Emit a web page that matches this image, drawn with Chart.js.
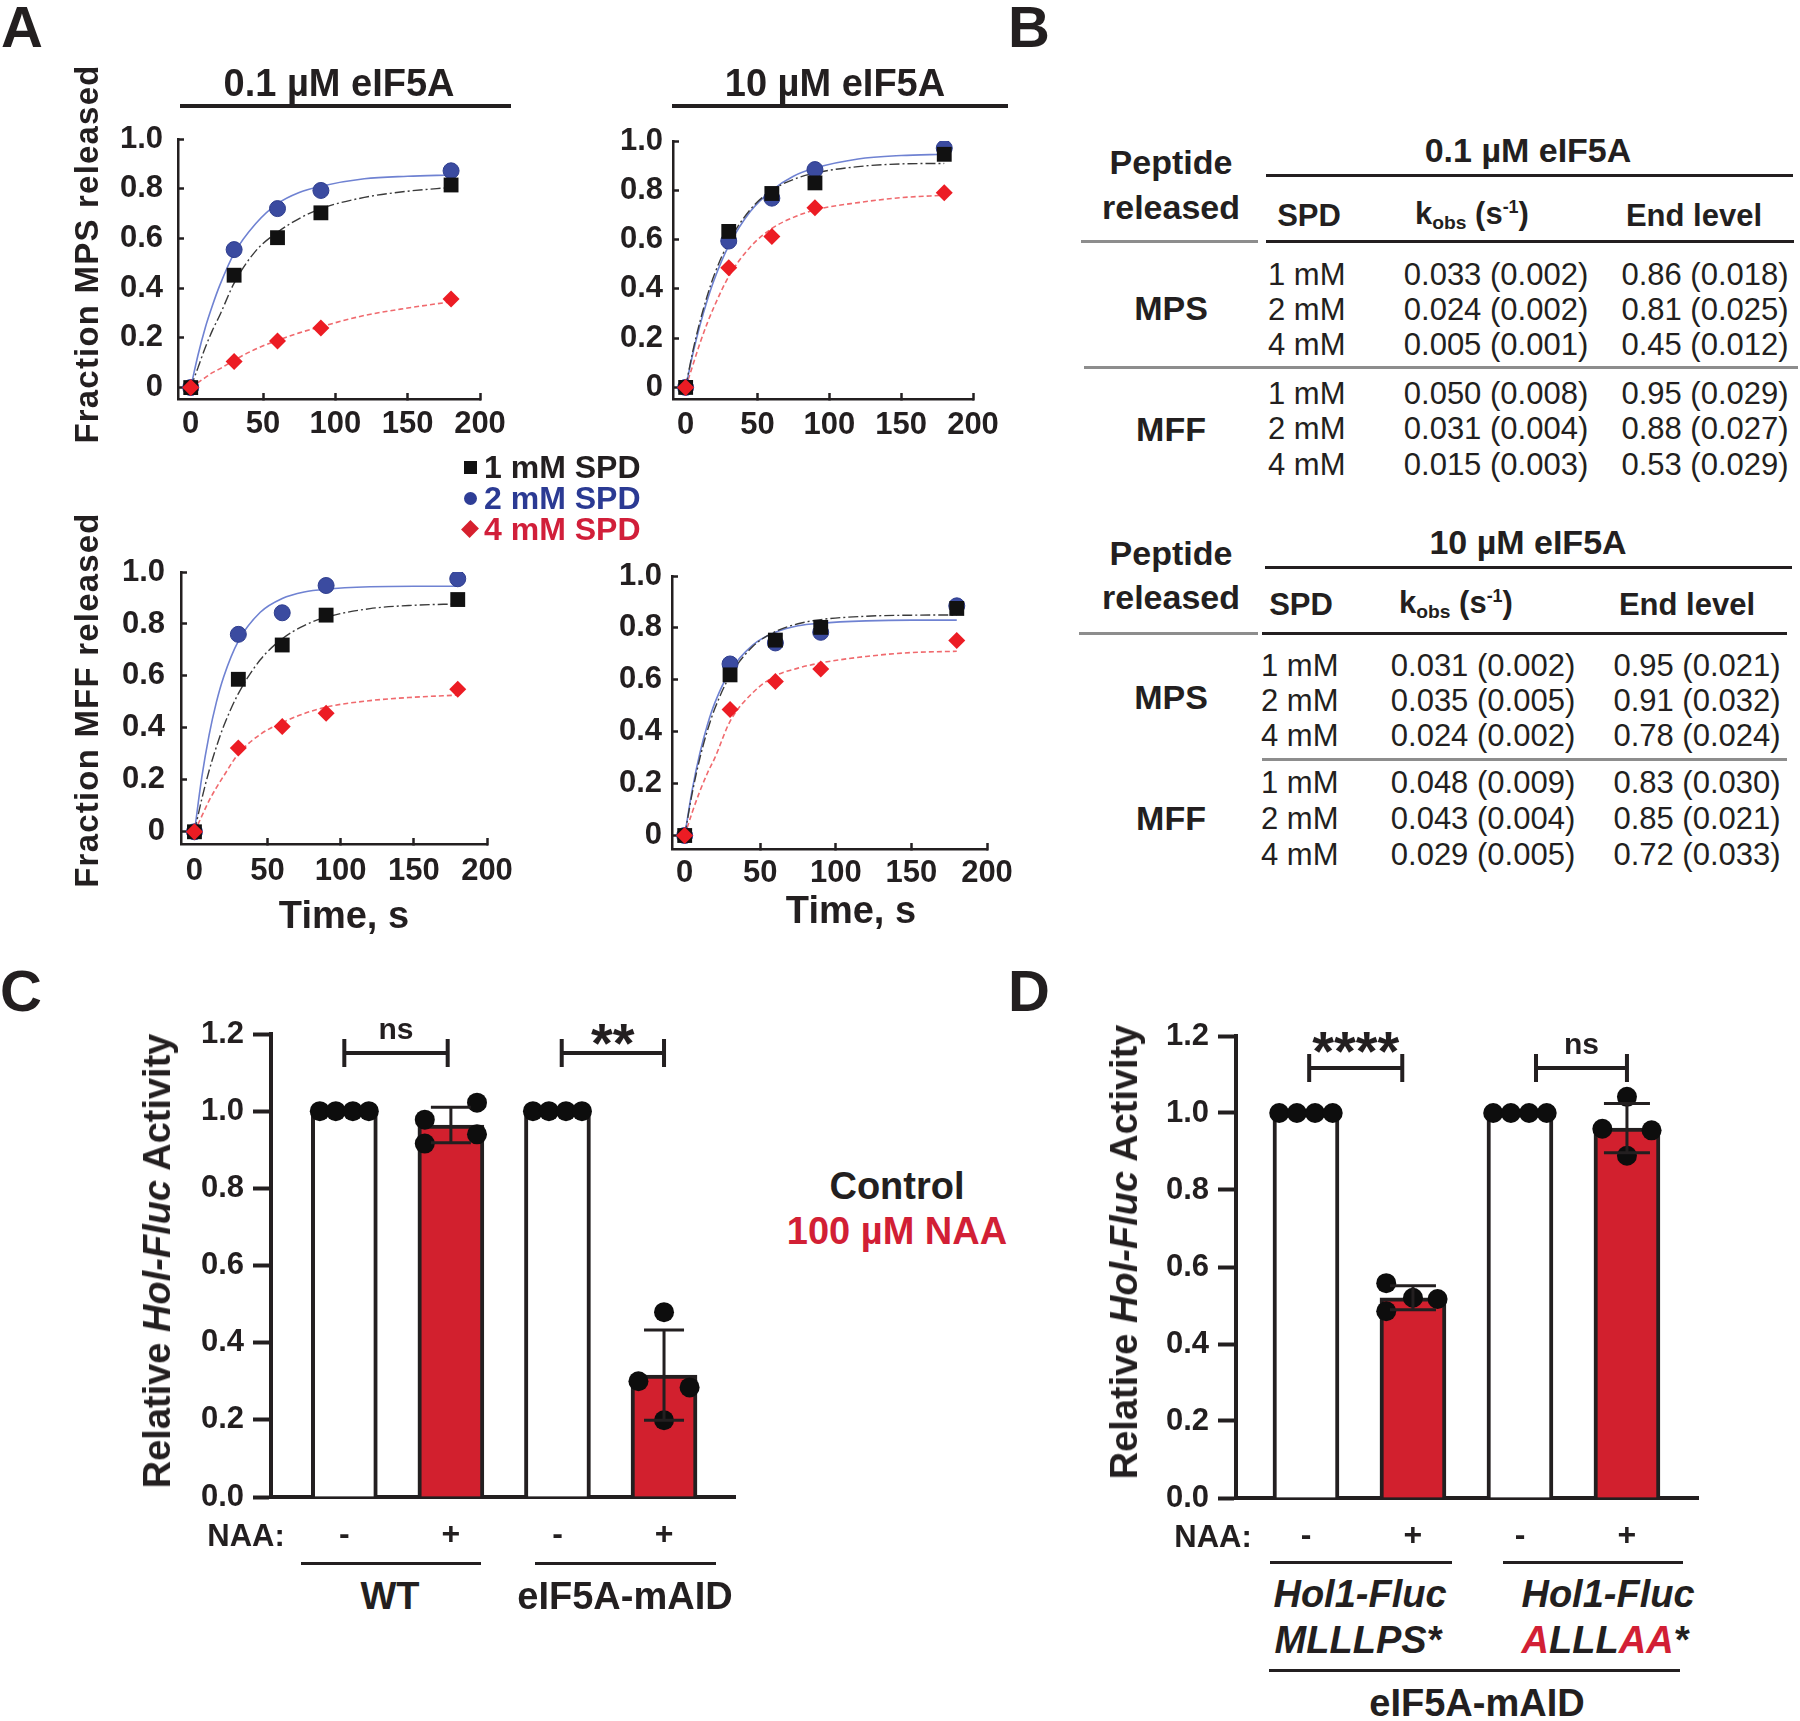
<!DOCTYPE html>
<html lang="en">
<head>
<meta charset="UTF-8">
<title>eIF5A peptide release and Hol1-Fluc activity</title>
<script src="https://cdn.jsdelivr.net/npm/chart.js"></script>
<style>
  html, body { margin: 0; padding: 0; background: #fff; }
  body { width: 1800px; height: 1721px; position: relative; overflow: hidden;
         font-family: 'Liberation Sans', Arial, Helvetica, sans-serif; color: #231f20; }
  #fig { position: absolute; left: 0; top: 0; width: 1800px; height: 1721px; }
  canvas { position: absolute; z-index: 0; }
  .t { position: absolute; z-index: 2; white-space: nowrap; line-height: 1; font-weight: bold;
       transform: translate(-50%, -50%); }
  .t.left { transform: translate(0, -50%); }
  .t.rot { transform: translate(-50%, -50%) rotate(-90deg); }
  .t.reg { font-weight: normal; }
  .t.it { font-style: italic; }
  .hl { position: absolute; z-index: 2; }
  .sub { font-size: 0.62em; vertical-align: -0.28em; }
  .sup { font-size: 0.58em; vertical-align: 0.62em; }
  .red { color: #d21f35; }
</style>
</head>
<body>
<div id="fig"></div>

<script>
// ---------- panel A : release kinetics ----------
const times = [0, 30, 60, 90, 180];
const spdLabels = ['1 mM SPD', '2 mM SPD', '4 mM SPD'];
const aXTicks = [0, 50, 100, 150, 200];
const aYTicks = [0, 0.2, 0.4, 0.6, 0.8, 1.0];
const aYLabels = ['0', '0.2', '0.4', '0.6', '0.8', '1.0'];

// measured points, order: 1 mM, 2 mM, 4 mM
const mps01 = [[0, 0.452, 0.603, 0.703, 0.815], [0, 0.555, 0.72, 0.793, 0.872], [0, 0.105, 0.187, 0.24, 0.356]];
const mps10 = [[0, 0.633, 0.787, 0.83, 0.946], [0, 0.594, 0.768, 0.884, 0.971], [0, 0.486, 0.612, 0.729, 0.79]];
const mff01 = [[0, 0.587, 0.719, 0.834, 0.894], [0, 0.76, 0.843, 0.948, 0.974], [0, 0.323, 0.405, 0.456, 0.549]];
const mff10 = [[0, 0.619, 0.753, 0.802, 0.875], [0, 0.661, 0.742, 0.783, 0.885], [0, 0.486, 0.593, 0.642, 0.751]];

// fitted curves
const curveT = [0, 5, 10, 15, 20, 30, 45, 60, 75, 90, 120, 150, 180];
const mps01Fit = [
  [0, 0.08, 0.16, 0.23, 0.29, 0.42, 0.55, 0.625, 0.68, 0.72, 0.765, 0.79, 0.805],
  [0, 0.13, 0.24, 0.33, 0.41, 0.54, 0.66, 0.74, 0.785, 0.81, 0.84, 0.85, 0.855],
  [0, 0.02, 0.04, 0.06, 0.075, 0.11, 0.155, 0.19, 0.22, 0.245, 0.29, 0.32, 0.345]];
const mps10Fit = [
  [0, 0.147, 0.268, 0.371, 0.458, 0.59, 0.722, 0.80, 0.844, 0.87, 0.896, 0.907, 0.909],
  [0, 0.136, 0.253, 0.353, 0.439, 0.575, 0.714, 0.80, 0.857, 0.89, 0.927, 0.941, 0.946],
  [0, 0.09, 0.18, 0.26, 0.33, 0.45, 0.57, 0.645, 0.69, 0.72, 0.75, 0.77, 0.78]];
const mff01Fit = [
  [0, 0.126, 0.235, 0.327, 0.407, 0.532, 0.662, 0.743, 0.794, 0.826, 0.859, 0.872, 0.877],
  [0, 0.209, 0.372, 0.499, 0.597, 0.734, 0.845, 0.898, 0.923, 0.934, 0.943, 0.945, 0.945],
  [0, 0.06, 0.12, 0.17, 0.215, 0.30, 0.375, 0.42, 0.455, 0.48, 0.505, 0.518, 0.526]];
const mff10Fit = [
  [0, 0.164, 0.297, 0.404, 0.49, 0.616, 0.728, 0.786, 0.816, 0.832, 0.845, 0.849, 0.85],
  [0, 0.177, 0.316, 0.426, 0.512, 0.633, 0.734, 0.783, 0.808, 0.818, 0.827, 0.83, 0.83],
  [0, 0.09, 0.17, 0.24, 0.30, 0.44, 0.55, 0.615, 0.645, 0.665, 0.69, 0.705, 0.71]];

// ---------- panel B : fit table ----------
const spdRows = ['1 mM', '2 mM', '4 mM'];
const kobs01MPS = [0.033, 0.024, 0.005], kobs01MPSErr = [0.002, 0.002, 0.001];
const end01MPS = [0.86, 0.81, 0.45], end01MPSErr = [0.018, 0.025, 0.012];
const kobs01MFF = [0.050, 0.031, 0.015], kobs01MFFErr = [0.008, 0.004, 0.003];
const end01MFF = [0.95, 0.88, 0.53], end01MFFErr = [0.029, 0.027, 0.029];
const kobs10MPS = [0.031, 0.035, 0.024], kobs10MPSErr = [0.002, 0.005, 0.002];
const end10MPS = [0.95, 0.91, 0.78], end10MPSErr = [0.021, 0.032, 0.024];
const kobs10MFF = [0.048, 0.043, 0.029], kobs10MFFErr = [0.009, 0.004, 0.005];
const end10MFF = [0.83, 0.85, 0.72], end10MFFErr = [0.030, 0.021, 0.033];

// ---------- panels C and D : Hol-Fluc activity ----------
const naaSigns = ['-', '+', '-', '+'];
const barYTicks = [0, 0.2, 0.4, 0.6, 0.8, 1.0, 1.2];
const barYLabels = ['0.0', '0.2', '0.4', '0.6', '0.8', '1.0', '1.2'];

const cMeans = [1.0, 0.964, 1.0, 0.316];
const cSD = [0, 0.046, 0, 0.117];
const cDotY = [[1, 1, 1, 1], [0.978, 0.916, 1.022, 0.94], [1, 1, 1, 1], [0.479, 0.30, 0.284, 0.199]];
const cDotDx = [[-0.23, -0.08, 0.08, 0.23], [-0.245, -0.245, 0.245, 0.245], [-0.23, -0.08, 0.08, 0.23], [0, -0.24, 0.24, 0]];
const cSig = ['ns', '**'];
const cPairs = [[1.0, 1.97], [3.04, 4.0]];

const dMeans = [1.0, 0.52, 1.0, 0.961];
const dSD = [0, 0.031, 0, 0.064];
const dDotY = [[1, 1, 1, 1], [0.558, 0.485, 0.52, 0.517], [1, 1, 1, 1], [1.042, 0.959, 0.955, 0.889]];
const dDotDx = [[-0.25, -0.085, 0.085, 0.25], [-0.25, -0.25, 0, 0.23], [-0.25, -0.085, 0.085, 0.25], [0, -0.23, 0.23, 0]];
const dSig = ['****', 'ns'];
const dPairs = [[1.03, 1.9], [3.15, 4.0]];

// ---------- helpers ----------
const INK = '#231f20';
const RED = '#d2202e';
const fig = document.getElementById('fig');
Chart.defaults.font.family = "'Liberation Sans', Arial, Helvetica, sans-serif";
Chart.defaults.font.weight = 'bold';
Chart.defaults.color = INK;

function txt(html, x, y, size, o = {}) {
  const d = document.createElement('div');
  d.className = 't' + (o.cls ? ' ' + o.cls : '');
  d.style.left = x + 'px';
  d.style.top = y + 'px';
  d.style.fontSize = size + 'px';
  if (o.color) d.style.color = o.color;
  if (o.ls) d.style.letterSpacing = o.ls + 'px';
  d.innerHTML = html;
  fig.appendChild(d);
}

function hline(x1, x2, y, w, color) {
  const d = document.createElement('div');
  d.className = 'hl';
  d.style.left = x1 + 'px';
  d.style.top = (y - w / 2) + 'px';
  d.style.width = (x2 - x1) + 'px';
  d.style.height = w + 'px';
  d.style.background = color || INK;
  fig.appendChild(d);
}

function makeCanvas(left, top, w, h) {
  const c = document.createElement('canvas');
  c.width = w; c.height = h;
  c.style.left = left + 'px';
  c.style.top = top + 'px';
  c.style.width = w + 'px';
  c.style.height = h + 'px';
  fig.appendChild(c);
  return c;
}

// one kinetics subplot; area = pixel box of the plot frame on the page
function kineticPanel(area, xMin, yMin, pts, fit, labelGap, xLabelDy) {
  const YW = 80, XH = 60, PT = 55, PR = 45, FS = 31;
  const left = area.l - YW, top = area.t - PT;
  const cv = makeCanvas(left, top, area.r - left + PR, area.b + XH - top);
  const asPts = ys => times.map((t, i) => ({x: t, y: ys[i]}));
  const asCurve = ys => curveT.map((t, i) => ({x: t, y: ys[i]}));
  const curve = (ys, color, dash, w) => ({
    type: 'line', data: asCurve(ys), borderColor: color, borderWidth: w, borderDash: dash,
    pointRadius: 0, cubicInterpolationMode: 'monotone', fill: false
  });
  new Chart(cv, {
    type: 'scatter',
    data: {
      datasets: [
        {data: asPts(pts[2]), pointStyle: 'rectRot', pointRadius: 8.5, backgroundColor: '#ec1c24', borderColor: '#ec1c24', borderWidth: 0},
        {data: asPts(pts[0]), pointStyle: 'rect', pointRadius: 10.5, backgroundColor: '#111', borderColor: '#111', borderWidth: 0},
        {data: asPts(pts[1]), pointStyle: 'circle', pointRadius: 8, backgroundColor: '#3b4ba0', borderColor: '#2e3d8e', borderWidth: 1},
        curve(fit[0], '#3a3a3a', [10, 3, 2, 3], 1.4),
        curve(fit[1], '#6f82d2', [], 1.6),
        curve(fit[2], '#f06a6e', [5, 3], 1.6)
      ]
    },
    options: {
      responsive: false, animation: false, events: [],
      layout: {padding: {top: PT, right: PR, left: 0, bottom: 0}},
      plugins: {legend: {display: false}, tooltip: {enabled: false}},
      scales: {
        x: {
          type: 'linear', min: xMin, max: 200,
          afterFit: s => { s.height = XH; },
          afterBuildTicks: s => { s.ticks = aXTicks.map(v => ({value: v})); },
          grid: {drawOnChartArea: false, tickLength: -6, tickWidth: 2.5,
                 tickColor: c => (c.tick && c.tick.value === 0) ? 'rgba(0,0,0,0)' : INK},
          border: {color: INK, width: 2.5},
          ticks: {padding: xLabelDy + 6 - FS * 0.6, maxRotation: 0, autoSkip: false,
                  font: {size: FS}, callback: (v, i) => String(aXTicks[i])}
        },
        y: {
          type: 'linear', min: yMin, max: 1.0,
          afterFit: s => { s.width = YW; },
          afterBuildTicks: s => { s.ticks = aYTicks.map(v => ({value: v})); },
          grid: {drawOnChartArea: false, tickLength: -6, tickWidth: 2.5, tickColor: INK},
          border: {color: INK, width: 2.5},
          ticks: {padding: labelGap + 6, autoSkip: false, font: {size: FS},
                  callback: (v, i) => aYLabels[i]}
        }
      }
    }
  });
}

// error bars and significance brackets for the bar panels
const barExtras = {
  id: 'barExtras',
  afterDatasetsDraw(chart, args, o) {
    const {ctx, scales: {x, y}} = chart;
    ctx.save();
    ctx.strokeStyle = INK;
    ctx.lineWidth = 3;
    o.means.forEach((m, i) => {
      if (!o.sd[i]) return;
      const px = x.getPixelForValue(i + 1);
      const yt = y.getPixelForValue(m + o.sd[i]);
      const yb = y.getPixelForValue(m - o.sd[i]);
      ctx.beginPath();
      ctx.moveTo(px, yt); ctx.lineTo(px, yb);
      ctx.moveTo(px - o.cap, yt); ctx.lineTo(px + o.cap, yt);
      ctx.moveTo(px - o.cap, yb); ctx.lineTo(px + o.cap, yb);
      ctx.stroke();
    });
    ctx.lineWidth = 4;
    o.pairs.forEach(([a, b]) => {
      const xa = x.getPixelForValue(a), xb = x.getPixelForValue(b);
      const py = y.getPixelForValue(o.level);
      ctx.beginPath();
      ctx.moveTo(xa, py); ctx.lineTo(xb, py);
      ctx.moveTo(xa, py - 14); ctx.lineTo(xa, py + 14);
      ctx.moveTo(xb, py - 14); ctx.lineTo(xb, py + 14);
      ctx.stroke();
    });
    ctx.restore();
  }
};

function barPanel(area, means, sd, dotY, dotDx, pairs, sig, level, cap, starDy) {
  const YW = 120, XH = 70, PT = 30, PR = 20;
  const left = area.l - YW, top = area.t - PT;
  const cv = makeCanvas(left, top, area.r - left + PR, area.b + XH - top);
  const dots = [];
  dotY.forEach((ys, i) => ys.forEach((v, k) => dots.push({x: i + 1 + dotDx[i][k], y: v})));
  const chart = new Chart(cv, {
    type: 'bar',
    data: {
      datasets: [
        {type: 'scatter', data: dots, pointRadius: 10, backgroundColor: '#0d0d0d', borderWidth: 0, order: 0},
        {type: 'bar', data: means.map((m, i) => ({x: i + 1, y: m})),
         backgroundColor: means.map((m, i) => i % 2 ? RED : '#fff'),
         borderColor: INK, borderWidth: 4, barThickness: 66, order: 1}
      ]
    },
    options: {
      responsive: false, animation: false, events: [],
      layout: {padding: {top: PT, right: PR, left: 0, bottom: 0}},
      plugins: {legend: {display: false}, tooltip: {enabled: false},
                barExtras: {means, sd, pairs, level, cap}},
      scales: {
        x: {
          type: 'linear', min: area.xMin, max: area.xMax, offset: false,
          afterFit: s => { s.height = XH; },
          afterBuildTicks: s => { s.ticks = naaSigns.map((t, i) => ({value: i + 1})); },
          grid: {drawOnChartArea: false, drawTicks: false, offset: false},
          border: {color: INK, width: 4},
          ticks: {padding: 19, maxRotation: 0, autoSkip: false, font: {size: 32},
                  callback: (v, i) => naaSigns[i]}
        },
        y: {
          type: 'linear', min: 0, max: 1.2,
          afterFit: s => { s.width = YW; },
          afterBuildTicks: s => { s.ticks = barYTicks.map(v => ({value: v})); },
          grid: {drawOnChartArea: false, tickLength: 18, tickWidth: 4, tickColor: INK},
          border: {color: INK, width: 4},
          ticks: {padding: 9, autoSkip: false, font: {size: 31}, callback: (v, i) => barYLabels[i]}
        }
      }
    },
    plugins: [barExtras]
  });
  // significance labels over the brackets
  const bx = chart.scales.x, by = chart.scales.y;
  pairs.forEach(([a, b], i) => {
    const cx = left + (bx.getPixelForValue(a) + bx.getPixelForValue(b)) / 2;
    const cy = top + by.getPixelForValue(level);
    if (sig[i] === 'ns') txt('ns', cx, cy - 24, 30);
    else txt(sig[i], cx, cy + starDy, 56);
  });
}

// ---------- draw panel A ----------
txt('A', 22, 27, 58);
txt('0.1 µM eIF5A', 339, 83, 38);
hline(180, 511, 106, 3.5);
txt('10 µM eIF5A', 835, 83, 38);
hline(672, 1008, 106, 3.5);

kineticPanel({l: 178, r: 480, t: 139, b: 399}, -8.8, -0.046, mps01, mps01Fit, 15, 25);
kineticPanel({l: 673, r: 973, t: 141, b: 399}, -8.8, -0.047, mps10, mps10Fit, 10, 26);
kineticPanel({l: 181, r: 487, t: 572, b: 844}, -9.2, -0.047, mff01, mff01Fit, 16, 27);
kineticPanel({l: 672, r: 987, t: 576, b: 849}, -8.4, -0.052, mff10, mff10Fit, 10, 24);

txt('Fraction MPS released', 86, 254, 33, {cls: 'rot', ls: 1.2});
txt('Fraction MFF released', 86, 700, 33, {cls: 'rot', ls: 1.2});
txt('Time, s', 344, 915, 38);
txt('Time, s', 851, 910, 38);

// shared legend
const legendColors = ['#231f20', '#2b3a93', '#d11f3a'];
const legendY = [467, 498, 529];
function legendMark(shape, cx, cy, color) {
  const d = document.createElement('div');
  d.className = 'hl';
  const s = shape === 'diamond' ? 12 : 13;
  d.style.left = (cx - s / 2) + 'px';
  d.style.top = (cy - s / 2) + 'px';
  d.style.width = s + 'px';
  d.style.height = s + 'px';
  d.style.background = color;
  if (shape === 'circle') d.style.borderRadius = '50%';
  if (shape === 'diamond') d.style.transform = 'rotate(45deg) scale(1, 1.1)';
  fig.appendChild(d);
}
legendMark('square', 470, legendY[0], '#111');
legendMark('circle', 470, legendY[1], '#2e3d96');
legendMark('diamond', 470, legendY[2], '#d6202e');
spdLabels.forEach((s, i) => txt(s, 484, legendY[i], 32, {cls: 'left', color: legendColors[i]}));

// ---------- draw panel B ----------
txt('B', 1029, 27, 58);
function fitTable(g) {
  txt('Peptide', 1171, g.pepY[0], 34);
  txt('released', 1171, g.pepY[1], 34);
  txt(g.title, 1528, g.titleY, 34);
  hline(g.titleLine[0], g.titleLine[1], g.titleLine[2], 3);
  txt('SPD', g.headX[0], g.headY, 31);
  txt('k<span class="sub">obs</span> (s<span class="sup">-1</span>)', g.headX[1], g.headY, 31);
  txt('End level', g.headX[2], g.headY, 31);
  hline(g.grayLine[0], g.grayLine[1], g.lineY, 3, '#8d8d8d');
  hline(g.blackLine[0], g.blackLine[1], g.lineY, 3);
  hline(g.sep[0], g.sep[1], g.sep[2], 3, '#8d8d8d');
  ['MPS', 'MFF'].forEach((p, gi) => {
    txt(p, 1171, g.groupY[gi], 34);
    const k = g.kobs[gi], ke = g.kobsErr[gi], e = g.end[gi], ee = g.endErr[gi];
    spdRows.forEach((s, r) => {
      const y = g.rowY[gi][r];
      txt(s, g.spdX, y, 31, {cls: 'left reg'});
      txt(k[r].toFixed(3) + ' (' + ke[r].toFixed(3) + ')', g.kobsX, y, 31, {cls: 'reg'});
      txt(e[r].toFixed(2) + ' (' + ee[r].toFixed(3) + ')', g.endX, y, 31, {cls: 'reg'});
    });
  });
}
fitTable({
  title: '0.1 µM eIF5A', pepY: [162, 207], titleY: 150, titleLine: [1266, 1793, 175],
  headY: 215, headX: [1309, 1472, 1694], lineY: 241,
  grayLine: [1081, 1258], blackLine: [1266, 1794], sep: [1084, 1798, 367],
  groupY: [308, 429], rowY: [[274, 309, 344], [393, 428, 464]],
  spdX: 1268, kobsX: 1496, endX: 1705,
  kobs: [kobs01MPS, kobs01MFF], kobsErr: [kobs01MPSErr, kobs01MFFErr],
  end: [end01MPS, end01MFF], endErr: [end01MPSErr, end01MFFErr]
});
fitTable({
  title: '10 µM eIF5A', pepY: [553, 597], titleY: 542, titleLine: [1265, 1792, 567],
  headY: 604, headX: [1301, 1456, 1687], lineY: 633,
  grayLine: [1079, 1258], blackLine: [1262, 1787], sep: [1262, 1787, 759],
  groupY: [697, 818], rowY: [[665, 700, 735], [782, 818, 854]],
  spdX: 1261, kobsX: 1483, endX: 1697,
  kobs: [kobs10MPS, kobs10MFF], kobsErr: [kobs10MPSErr, kobs10MFFErr],
  end: [end10MPS, end10MFF], endErr: [end10MPSErr, end10MFFErr]
});

// ---------- draw panel C ----------
txt('C', 21, 991, 58);
barPanel({l: 271, r: 735, t: 1034, b: 1497, xMin: 0.312, xMax: 4.666},
         cMeans, cSD, cDotY, cDotDx, cPairs, cSig, 1.151, 20, -10);
txt('Relative <i>Hol-Fluc</i> Activity', 157, 1261, 38, {cls: 'rot'});
txt('NAA:', 246, 1535, 31);
hline(301, 481, 1563, 3);
hline(535, 716, 1563, 3);
txt('WT', 390, 1596, 38);
txt('eIF5A-mAID', 625, 1596, 38);
txt('Control', 897, 1186, 38);
txt('100 µM NAA', 897, 1231, 38, {color: '#d21f35'});

// ---------- draw panel D ----------
txt('D', 1029, 991, 58);
barPanel({l: 1236, r: 1698, t: 1036, b: 1498, xMin: 0.346, xMax: 4.664},
         dMeans, dSD, dDotY, dDotDx, dPairs, dSig, 1.117, 23, -17);
txt('Relative <i>Hol-Fluc</i> Activity', 1124, 1252, 38, {cls: 'rot'});
txt('NAA:', 1213, 1536, 31);
hline(1270, 1452, 1562, 3);
hline(1503, 1683, 1562, 3);
txt('Hol1-Fluc', 1360, 1594, 38, {cls: 'it'});
txt('MLLLPS*', 1358, 1640, 38, {cls: 'it'});
txt('Hol1-Fluc', 1608, 1594, 38, {cls: 'it'});
txt('<span class="red">A</span>LLL<span class="red">AA</span>*', 1605, 1640, 38, {cls: 'it'});
hline(1269, 1680, 1670, 3);
txt('eIF5A-mAID', 1477, 1703, 38);
</script>
</body>
</html>
